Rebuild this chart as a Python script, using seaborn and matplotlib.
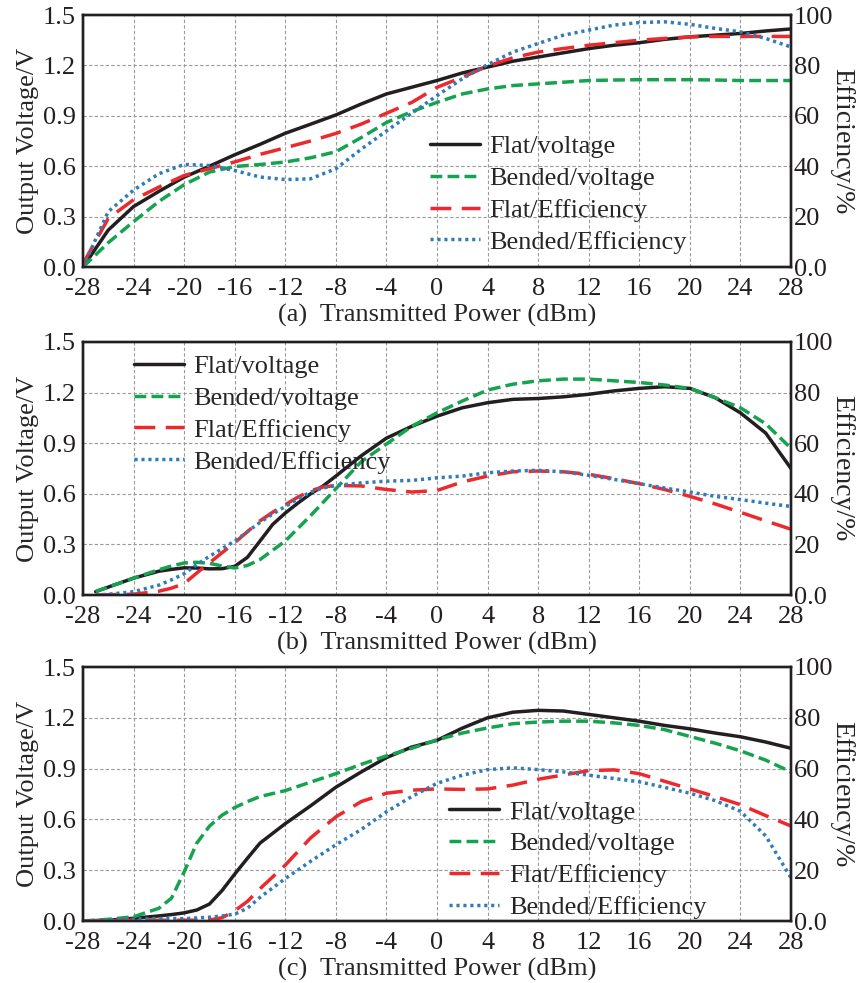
import matplotlib
matplotlib.use("Agg")
import matplotlib.pyplot as plt
import seaborn as sns

# ---------------- data ----------------
x_a = [-28, -26, -24, -22, -20, -18, -16, -14, -12, -10, -8, -6, -4, -2, 0,
       2, 4, 6, 8, 10, 12, 14, 16, 18, 20, 22, 24, 26, 28]
flat_v_a = [0.0, 0.22, 0.36, 0.45, 0.535, 0.60, 0.668, 0.73, 0.796, 0.85, 0.905, 0.97, 1.03, 1.07, 1.11,
            1.155, 1.19, 1.225, 1.25, 1.275, 1.30, 1.32, 1.335, 1.355, 1.37, 1.38, 1.39, 1.405, 1.417]
bend_v_a = [0.0, 0.145, 0.27, 0.39, 0.49, 0.565, 0.598, 0.61, 0.625, 0.65, 0.686, 0.77, 0.86, 0.925, 0.98,
            1.03, 1.06, 1.08, 1.09, 1.10, 1.11, 1.113, 1.115, 1.115, 1.115, 1.113, 1.11, 1.11, 1.11]
flat_e_a = [1.3, 19.3, 26.7, 31.7, 36.3, 39.0, 41.7, 44.7, 47.3, 50.0, 53.0, 56.7, 61.0, 65.3, 71.3,
            75.3, 79.7, 83.0, 85.3, 86.7, 88.0, 89.0, 90.0, 90.7, 91.3, 91.5, 91.5, 91.5, 91.5]
bend_e_a = [0.0, 22.0, 30.5, 37.0, 40.7, 40.3, 38.3, 35.7, 34.7, 35.0, 39.0, 46.7, 54.0, 61.0, 68.0,
            74.7, 80.3, 85.3, 88.7, 92.0, 94.0, 96.0, 97.0, 97.3, 96.3, 94.7, 93.3, 90.7, 87.3]

x_b = [-27, -26, -24, -22, -21, -20, -19, -18, -17, -16, -15, -14, -13, -12, -11, -10, -9, -8,
       -6, -4, -2, 0, 2, 4, 6, 8, 10, 12, 14, 16, 18, 20, 22, 24, 26, 28]
flat_v_b = [0.02, 0.047, 0.10, 0.141, 0.152, 0.161, 0.16, 0.155, 0.156, 0.17, 0.223, 0.32, 0.418, 0.486,
            0.545, 0.60, 0.647, 0.705,
            0.825, 0.93, 1.00, 1.06, 1.11, 1.14, 1.16, 1.165, 1.175, 1.19, 1.21, 1.225, 1.235, 1.225,
            1.17, 1.08, 0.96, 0.75]
bend_v_b = [0.02, 0.047, 0.10, 0.15, 0.172, 0.19, 0.194, 0.188, 0.172, 0.16, 0.175, 0.21, 0.265, 0.32,
            0.395, 0.47, 0.55, 0.63,
            0.79, 0.895, 1.00, 1.08, 1.15, 1.215, 1.25, 1.27, 1.28, 1.28, 1.27, 1.26, 1.245, 1.225,
            1.17, 1.11, 1.015, 0.87]
flat_e_b = [0.0, 0.1, 0.3, 1.5, 2.7, 4.5, 8.7, 12.7, 16.7, 20.7, 25.0, 29.3, 32.7, 35.7, 38.7, 41.2,
            42.7, 43.3,
            43.1, 41.7, 40.7, 41.3, 44.7, 47.0, 48.7, 49.0, 48.7, 47.7, 46.0, 44.0, 41.7, 39.0, 36.0,
            32.7, 29.3, 26.0]
bend_e_b = [0.0, 0.3, 1.3, 3.9, 6.0, 8.4, 12.0, 15.3, 18.3, 21.3, 25.0, 28.7, 32.0, 35.0, 38.0, 40.7,
            42.3, 43.3,
            44.3, 45.0, 45.3, 46.3, 47.0, 48.3, 49.0, 49.3, 48.7, 47.3, 45.7, 44.0, 42.3, 40.7, 39.0,
            37.7, 36.3, 35.0]

x_c = [-28, -26, -24, -22, -21, -20, -19, -18, -17, -16, -15, -14, -12, -10, -8, -6, -4, -2, 0,
       2, 4, 6, 8, 10, 12, 14, 16, 18, 20, 22, 24, 26, 28]
flat_v_c = [0.0, 0.005, 0.016, 0.03, 0.038, 0.048, 0.065, 0.10, 0.18, 0.277, 0.37, 0.46, 0.575, 0.68,
            0.79, 0.88, 0.965, 1.027, 1.067,
            1.139, 1.20, 1.233, 1.244, 1.24, 1.22, 1.20, 1.18, 1.155, 1.135, 1.11, 1.088, 1.057, 1.02]
bend_v_c = [0.0, 0.01, 0.025, 0.075, 0.135, 0.29, 0.46, 0.56, 0.625, 0.67, 0.705, 0.735, 0.77, 0.82,
            0.87, 0.925, 0.975, 1.02, 1.07,
            1.11, 1.14, 1.165, 1.175, 1.18, 1.18, 1.17, 1.155, 1.13, 1.09, 1.05, 1.005, 0.95, 0.88]
flat_e_c = [0.0, 0.2, 0.3, 0.3, 0.3, 0.3, 0.3, 0.4, 1.3, 4.0, 7.7, 12.7, 22.0, 32.7, 41.0, 47.0, 50.3,
            51.5, 52.0,
            51.8, 52.0, 53.5, 55.8, 57.5, 59.2, 59.5, 58.0, 55.0, 52.0, 49.0, 45.8, 41.5, 37.4]
bend_e_c = [0.0, 0.3, 0.7, 1.0, 1.0, 0.9, 1.2, 1.5, 2.0, 2.7, 5.0, 9.3, 16.7, 23.5, 30.0, 36.0, 43.0,
            49.0, 54.2,
            57.4, 59.6, 60.3, 59.6, 58.7, 57.4, 56.1, 54.8, 52.6, 50.3, 47.4, 43.2, 33.5, 17.0]

x_ticks = [-28, -24, -20, -16, -12, -8, -4, 0, 4, 8, 12, 16, 20, 24, 28]
x_tick_labels = ["-28", "-24", "-20", "-16", "-12", "-8", "-4", "0", "4", "8", "12", "16", "20", "24", "28"]
v_ticks = [0.0, 0.3, 0.6, 0.9, 1.2, 1.5]
v_tick_labels = ["0.0", "0.3", "0.6", "0.9", "1.2", "1.5"]
e_ticks = [0, 20, 40, 60, 80, 100]
e_tick_labels = ["0.0", "20", "40", "60", "80", "100"]
series_names = ["Flat/voltage", "Bended/voltage", "Flat/Efficiency", "Bended/Efficiency"]
panel_tags = ["(a)", "(b)", "(c)"]

# ---------------- style ----------------
sns.set_style("white")
plt.rcParams['font.family'] = ['Liberation Serif', 'DejaVu Serif']
FS = 19

C_BLACK = "#231f20"
C_GREEN = "#16a34f"
C_RED = "#ec2a2d"
C_BLUE = "#2f7cb8"
LW = 2.5

fig = plt.figure(figsize=(8.57, 9.83), dpi=100)

left, width = 83 / 857, (791 - 83) / 857
rects = [(15, 267), (342, 595), (667, 921)]
legend_anchor = [(0.483, 0.547), (0.064, 0.972), (0.51, 0.497)]

panels = [
    (x_a, flat_v_a, bend_v_a, flat_e_a, bend_e_a),
    (x_b, flat_v_b, bend_v_b, flat_e_b, bend_e_b),
    (x_c, flat_v_c, bend_v_c, flat_e_c, bend_e_c),
]

for i, (xs, fv, bv, fe, be) in enumerate(panels):
    top, bot = rects[i]
    ax = fig.add_axes([left, 1 - bot / 983, width, (bot - top) / 983])
    ax2 = ax.twinx()

    sns.lineplot(x=xs, y=fv, ax=ax, color=C_BLACK, lw=LW, label=series_names[0], legend=False)
    sns.lineplot(x=xs, y=bv, ax=ax, color=C_GREEN, lw=LW, linestyle=(0, (3.4, 1.5)),
                 label=series_names[1], legend=False)
    sns.lineplot(x=xs, y=fe, ax=ax2, color=C_RED, lw=LW, linestyle=(0, (6.0, 3.0)),
                 label=series_names[2], legend=False)
    sns.lineplot(x=xs, y=be, ax=ax2, color=C_BLUE, lw=LW, linestyle=(0, (0.9, 1.1)),
                 label=series_names[3], legend=False)

    ax.set_xlim(-28, 28)
    ax.set_ylim(0, 1.5)
    ax2.set_ylim(0, 100)
    ax.set_xticks(x_ticks, labels=x_tick_labels)
    ax.set_yticks(v_ticks, labels=v_tick_labels)
    ax2.set_yticks(e_ticks, labels=e_tick_labels)
    ax.grid(True, color="#9a9a9a", linestyle=(0, (3, 2)), linewidth=0.8)
    ax2.grid(False)
    ax.set_axisbelow(True)

    ax.tick_params(axis='x', length=0, labelsize=FS, pad=8, colors="#231f20")
    ax.tick_params(axis='y', length=0, labelsize=FS, pad=5, colors="#231f20")
    ax2.tick_params(axis='y', length=0, labelsize=FS, pad=2, colors="#231f20")

    for a in (ax, ax2):
        for s in a.spines.values():
            s.set_linewidth(1.7)
            s.set_color("#231f20")

    ax.set_xlabel(f"{panel_tags[i]}  Transmitted Power (dBm)", fontsize=FS, labelpad=3)
    ax.set_ylabel("Output Voltage/V", fontsize=FS, labelpad=3)
    ax2.set_ylabel("Efficiency/%", fontsize=20, rotation=270, labelpad=15)

    h1, l1 = ax.get_legend_handles_labels()
    h2, l2 = ax2.get_legend_handles_labels()
    ax2.legend(h1 + h2, l1 + l2, loc="upper left", bbox_to_anchor=legend_anchor[i],
               frameon=False, fontsize=FS, handlelength=1.9, handletextpad=0.35,
               labelspacing=0.32, borderpad=0.2, borderaxespad=0)

fig.savefig("out.png", dpi=100)
